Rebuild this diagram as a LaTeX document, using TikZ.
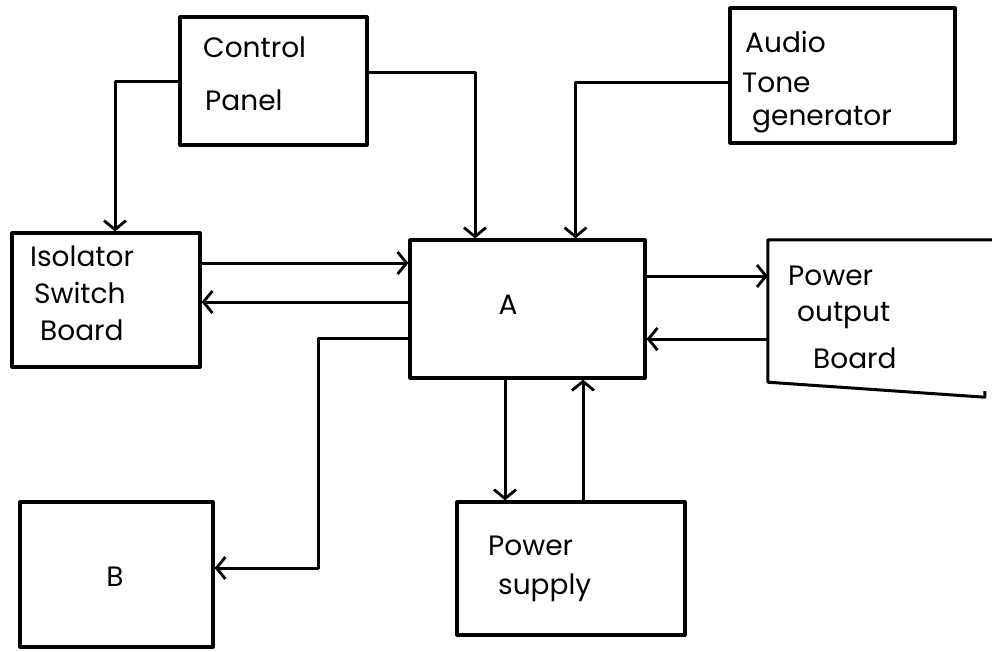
\documentclass[tikz,border=0pt]{standalone}
\usepackage{fontspec}
\setmainfont{Poppins}
\usetikzlibrary{arrows.meta,calc}
\begin{document}
\begin{tikzpicture}[x=1pt,y=-1pt,
  box/.style={draw,line width=3.2pt,inner sep=0pt,line join=round},
  ghost/.style={inner sep=0pt},
  lbl/.style={anchor=west,inner sep=0pt,font=\fontsize{28}{32}\selectfont},
  conn/.style={line width=3pt,line join=round},
  arr/.style={conn,-{Straight Barb[length=9pt,width=22pt,line width=2.8pt]}}]
\useasboundingbox (0,0) rectangle (992,651);
% boxes
\node[box,minimum width=187pt,minimum height=128pt] (cp) at (273.5,81) {};
\node[box,minimum width=225pt,minimum height=135pt] (atg) at (842.5,75.5) {};
\node[box,minimum width=188pt,minimum height=134pt] (iso) at (106,300) {};
\node[box,minimum width=235pt,minimum height=138pt] (A) at (527.5,309) {};
\node[ghost,minimum width=224pt,minimum height=142pt] (pob) at (880,311) {};
\draw[conn] (pob.north east) -- (pob.north west) -- (pob.south west) -- ++(217,15) -- ++(0,-6);
\node[box,minimum width=193pt,minimum height=145pt] (B) at (116.5,574.5) {};
\node[box,minimum width=228pt,minimum height=133pt] (ps) at (571,568.5) {};
% labels
\node[lbl] (t1) at (203,47) {Control};
\node[lbl] (t2) at (205,100) {Panel};
\node[lbl] (t3) at (745,42) {Audio};
\node[lbl] (t4) at (742,83) {Tone};
\node[lbl] (t5) at (752,120) {generator};
\node[lbl] (t6) at (30,256) {Isolator};
\node[lbl] (t7) at (34,293) {Switch};
\node[lbl] (t8) at (40,330) {Board};
\node[lbl,anchor=center] (t9) at (508,305) {A};
\node[lbl] (t10) at (788,276) {Power};
\node[lbl] (t11) at (797,316) {output};
\node[lbl] (t12) at (813,358) {Board};
\node[lbl,anchor=center] (t13) at (115,577) {B};
\node[lbl] (t14) at (488,546) {Power};
\node[lbl] (t15) at (498,588) {supply};
% connectors
\draw[arr] (cp.west) -| ([xshift=9pt]iso.north);
\draw[arr] ([yshift=9pt]cp.east) -| ([xshift=-52.5pt]A.north);
\draw[arr] ([yshift=-6.5pt]atg.west) -| ([xshift=48pt]A.north);
\draw[arr] ([yshift=37pt]iso.east) -- ([yshift=37pt]iso.east -| A.west);
\draw[arr] ([yshift=7pt]A.west) -- ([yshift=7pt]A.west -| iso.east);
\draw[arr] ([yshift=33pt]A.east) -- ([yshift=33pt]A.east -| pob.west);
\draw[arr] ([yshift=-28pt]pob.west) -- ([yshift=-28pt]pob.west -| A.east);
\draw[arr] ([yshift=-29pt]A.west) -- ++(-90,0) |- ([yshift=6.5pt]B.east);
\draw[arr] ([xshift=-22.5pt]A.south) -- ([xshift=-22.5pt]A.south |- ps.north);
\draw[arr] ([xshift=12pt]ps.north) -- ([xshift=12pt]ps.north |- A.south);
\end{tikzpicture}
\end{document}
